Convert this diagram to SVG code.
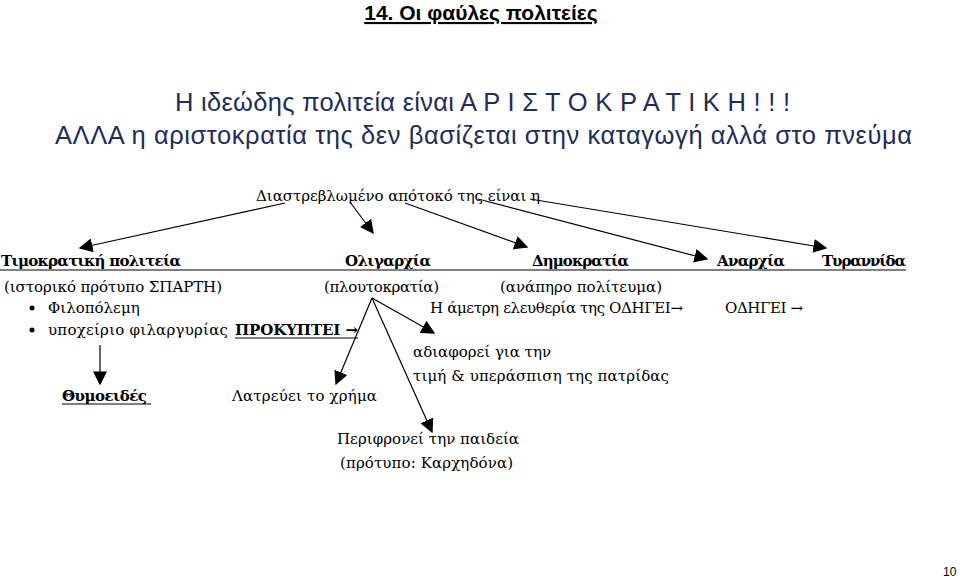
<svg xmlns="http://www.w3.org/2000/svg" width="960" height="580" viewBox="0 0 960 580">
<style>
.s{font-family:"DejaVu Serif","Liberation Serif",serif;font-size:15px;fill:#000}
.b{font-weight:bold}
.h{font-family:"Liberation Sans",Arial,sans-serif;font-size:25.5px;fill:#1f2d5a}
line{stroke:#000;stroke-width:1.2}
</style>
<defs><marker id="a" viewBox="0 0 10 10" refX="9" refY="5" markerWidth="14" markerHeight="14" markerUnits="userSpaceOnUse" orient="auto"><path d="M0,0L10,5L0,10z"/></marker></defs>
<rect width="960" height="580" fill="#fff"/>
<g id="title"><text x="481" y="20" text-anchor="middle" font-family="Liberation Sans,sans-serif" font-size="21" font-weight="bold" text-decoration="underline">14. Οι φαύλες πολιτείες</text></g>
<g id="intro"><text class="h" x="175" y="111" textLength="615">Η ιδεώδης πολιτεία είναι Α Ρ Ι Σ Τ Ο Κ Ρ Α Τ Ι Κ Η ! ! !</text>
<text class="h" x="55" y="144" textLength="857">ΑΛΛΑ η αριστοκρατία της δεν βασίζεται στην καταγωγή αλλά στο πνεύμα</text></g>
<g id="source"><text class="s" x="256" y="201" textLength="284">Διαστρεβλωμένο απότοκό της είναι η</text></g>
<g id="connectors">
<line x1="285" y1="203" x2="80" y2="248" marker-end="url(#a)"/>
<line x1="350" y1="202" x2="373" y2="233" marker-end="url(#a)"/>
<line x1="405" y1="203" x2="527" y2="247" marker-end="url(#a)"/>
<line x1="478" y1="199" x2="707" y2="259" marker-end="url(#a)"/>
<line x1="530" y1="199" x2="826" y2="248" marker-end="url(#a)"/>
<line x1="0" y1="270" x2="906" y2="270"/>
<line x1="100" y1="345" x2="100" y2="384" marker-end="url(#a)"/>
<line x1="372" y1="298" x2="336" y2="384" marker-end="url(#a)"/>
<line x1="372" y1="298" x2="434" y2="333" marker-end="url(#a)"/>
<line x1="372" y1="298" x2="432" y2="432" marker-end="url(#a)"/>
<line x1="235" y1="338" x2="358" y2="338"/>
<line x1="62" y1="404" x2="151" y2="404"/>
</g>
<g id="timokratia"><text class="s b" x="1" y="266" textLength="180">Τιμοκρατική πολιτεία</text>
<text class="s" x="4" y="292" textLength="218">(ιστορικό πρότυπο ΣΠΑΡΤΗ)</text>
<circle cx="32" cy="308" r="2.5"/><text class="s" x="48" y="313">Φιλοπόλεμη</text>
<circle cx="32" cy="330" r="2.5"/><text class="s" x="48" y="335" textLength="180">υποχείριο φιλαργυρίας</text>
<text class="s b" x="235" y="335" textLength="123">ΠΡΟΚΥΠΤΕΙ →</text>
<text class="s b" x="62" y="401" textLength="85">Θυμοειδές</text></g>
<g id="oligarxia"><text class="s b" x="345" y="266" textLength="86">Ολιγαρχία</text>
<text class="s" x="324" y="292" textLength="115">(πλουτοκρατία)</text>
<text class="s" x="413" y="357" textLength="138">αδιαφορεί για την</text>
<text class="s" x="413" y="381" textLength="256">τιμή &amp; υπεράσπιση της πατρίδας</text>
<text class="s" x="232" y="401" textLength="145">Λατρεύει το χρήμα</text>
<text class="s" x="337" y="444" textLength="182">Περιφρονεί την παιδεία</text>
<text class="s" x="340" y="468" textLength="173">(πρότυπο: Καρχηδόνα)</text></g>
<g id="dimokratia"><text class="s b" x="532" y="266" textLength="97">Δημοκρατία</text>
<text class="s" x="500" y="292" textLength="162">(ανάπηρο πολίτευμα)</text>
<text class="s" x="430" y="313" textLength="253">Η άμετρη ελευθερία της ΟΔΗΓΕΙ→</text></g>
<g id="anarxia"><text class="s b" x="717" y="266" textLength="68">Αναρχία</text>
<text class="s" x="725" y="313" textLength="78">ΟΔΗΓΕΙ →</text></g>
<g id="tyrannida"><text class="s b" x="822" y="266" textLength="84">Τυραννίδα</text></g>
<g id="page"><text x="943" y="576" font-family="Liberation Sans,sans-serif" font-size="12">10</text></g>
</svg>
